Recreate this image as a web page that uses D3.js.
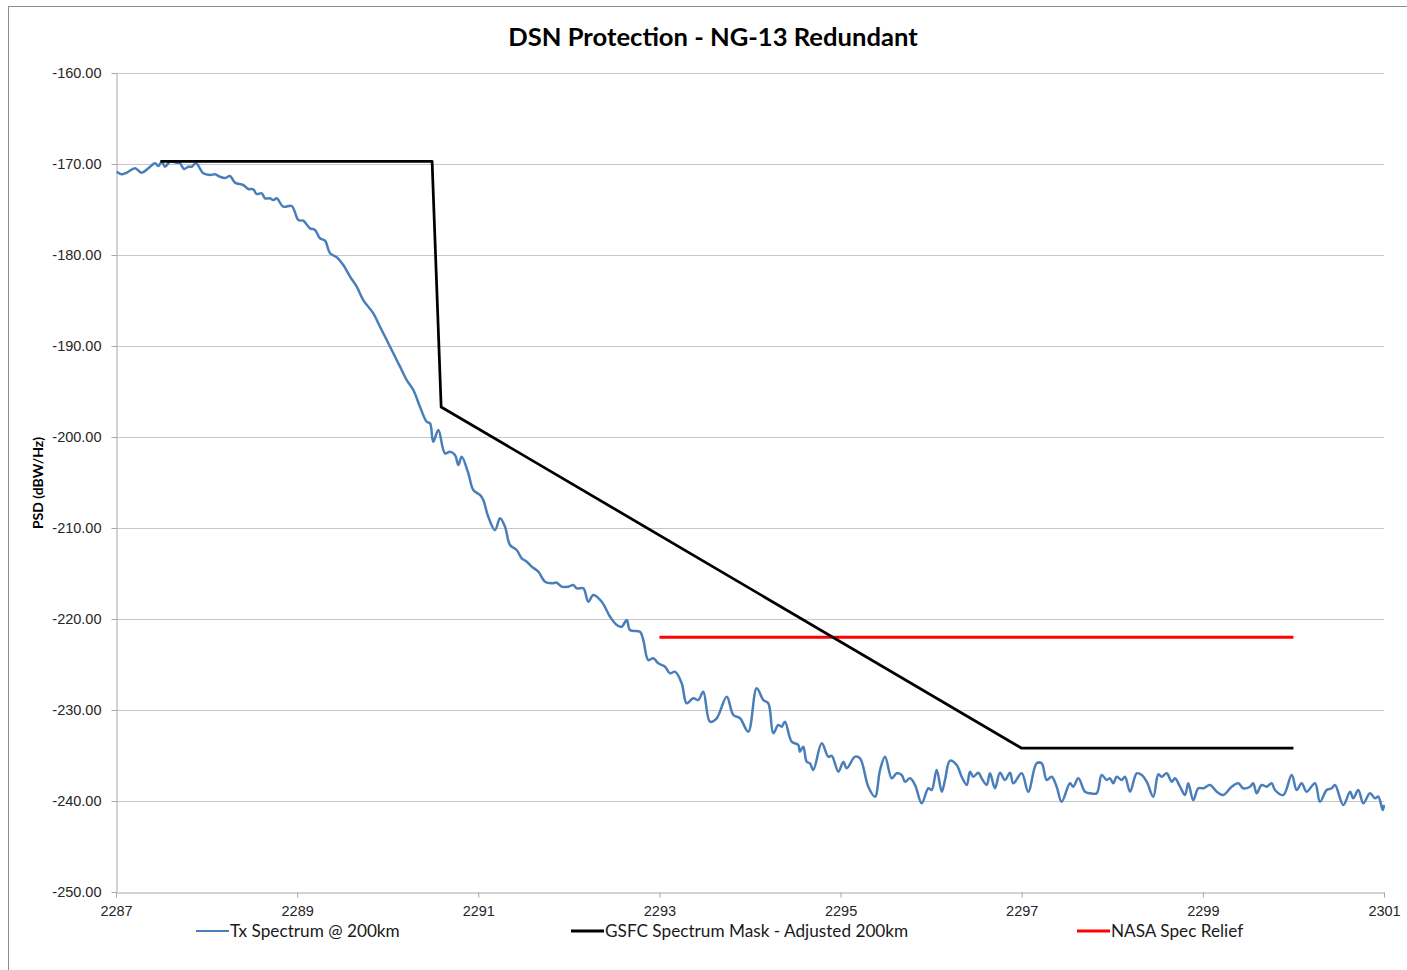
<!DOCTYPE html>
<html>
<head>
    <meta charset="utf-8">
    <style>
        body {
            margin: 0;
            background: #fff;
            font-family: Lato, 'Open Sans', Arial, sans-serif;
        }
        svg {
            display: block;
        }
        .tick text {
            font-size: 14.5px;
            fill: #262626;
        }
        .legend text {
            font-size: 17.2px;
            fill: #1a1a1a;
        }
    </style>
</head>
<body>
    <svg width="1407" height="970"></svg>
<script src="https://d3js.org/d3.v7.min.js"></script>
<script>
    // Tx spectrum (MHz, dBW/Hz)
    let txFreq = [2287.008, 2287.063, 2287.118, 2287.210, 2287.284, 2287.357, 2287.431, 2287.467, 2287.505, 2287.541,
        2287.596, 2287.670, 2287.707, 2287.751, 2287.798, 2287.836, 2287.883, 2287.964, 2288.038, 2288.093,
        2288.148, 2288.203, 2288.259, 2288.314, 2288.406, 2288.461, 2288.516, 2288.553, 2288.609, 2288.645,
        2288.700, 2288.737, 2288.774, 2288.847, 2288.940, 2289.013, 2289.068, 2289.142, 2289.197, 2289.252,
        2289.308, 2289.363, 2289.437, 2289.510, 2289.584, 2289.658, 2289.730, 2289.841, 2289.915, 2289.989,
        2290.062, 2290.136, 2290.210, 2290.283, 2290.356, 2290.430, 2290.467, 2290.503, 2290.559, 2290.632,
        2290.688, 2290.743, 2290.780, 2290.817, 2290.890, 2290.945, 2291.019, 2291.055, 2291.110, 2291.185,
        2291.240, 2291.295, 2291.350, 2291.424, 2291.479, 2291.535, 2291.590, 2291.663, 2291.737, 2291.811,
        2291.866, 2291.921, 2291.994, 2292.049, 2292.087, 2292.160, 2292.215, 2292.270, 2292.363, 2292.455,
        2292.529, 2292.584, 2292.639, 2292.675, 2292.786, 2292.822, 2292.877, 2292.932, 2292.988, 2293.062,
        2293.117, 2293.172, 2293.246, 2293.301, 2293.374, 2293.429, 2293.484, 2293.558, 2293.632, 2293.743,
        2293.816, 2293.890, 2293.981, 2294.074, 2294.147, 2294.202, 2294.257, 2294.312, 2294.350, 2294.386,
        2294.460, 2294.533, 2294.551, 2294.588, 2294.626, 2294.662, 2294.699, 2294.792, 2294.865, 2294.903,
        2294.976, 2295.031, 2295.068, 2295.160, 2295.215, 2295.306, 2295.380, 2295.436, 2295.491, 2295.565,
        2295.620, 2295.675, 2295.711, 2295.767, 2295.822, 2295.896, 2295.969, 2296.006, 2296.061, 2296.117,
        2296.153, 2296.208, 2296.282, 2296.337, 2296.393, 2296.429, 2296.465, 2296.521, 2296.558, 2296.613,
        2296.650, 2296.705, 2296.760, 2296.815, 2296.871, 2296.907, 2297.000, 2297.072, 2297.165, 2297.220,
        2297.276, 2297.331, 2297.386, 2297.441, 2297.533, 2297.569, 2297.625, 2297.699, 2297.754, 2297.828,
        2297.883, 2297.938, 2297.975, 2298.011, 2298.049, 2298.104, 2298.140, 2298.196, 2298.270, 2298.325,
        2298.380, 2298.453, 2298.508, 2298.545, 2298.601, 2298.656, 2298.692, 2298.748, 2298.803, 2298.839,
        2298.894, 2298.950, 2299.005, 2299.079, 2299.153, 2299.225, 2299.318, 2299.391, 2299.446, 2299.520,
        2299.556, 2299.594, 2299.649, 2299.704, 2299.760, 2299.796, 2299.888, 2299.981, 2300.036, 2300.091,
        2300.146, 2300.238, 2300.293, 2300.367, 2300.423, 2300.459, 2300.551, 2300.625, 2300.661, 2300.716,
        2300.772, 2300.845, 2300.901, 2300.937, 2300.986, 2301.000]
    let txPsd = [-170.85, -171.13, -170.96, -170.47, -170.96, -170.47, -169.92, -170.22, -169.75, -170.30,
        -169.75, -169.86, -169.92, -170.55, -170.30, -170.30, -169.92, -171.02, -171.21, -171.13,
        -171.40, -171.54, -171.32, -172.05, -172.31, -172.75, -172.78, -173.30, -173.22, -173.77,
        -173.77, -173.96, -173.77, -174.69, -174.62, -176.15, -176.23, -177.07, -177.25, -178.16,
        -178.43, -179.81, -180.25, -181.10, -182.38, -183.48, -184.95, -186.41, -187.88, -189.34,
        -190.80, -192.27, -193.74, -194.84, -196.67, -198.32, -198.49, -200.52, -199.23, -201.79,
        -201.62, -201.98, -203.08, -202.16, -203.99, -205.82, -206.37, -206.92, -208.76, -210.22,
        -208.93, -209.86, -211.87, -212.42, -213.33, -213.70, -214.25, -214.80, -215.90, -216.08,
        -216.01, -216.45, -216.45, -216.26, -216.63, -216.63, -218.10, -217.36, -218.10, -219.75,
        -220.66, -220.85, -220.11, -221.21, -221.40, -222.31, -224.51, -224.32, -224.87, -225.24,
        -225.97, -225.79, -227.07, -229.26, -228.71, -228.90, -227.99, -231.29, -230.91, -228.54,
        -230.55, -230.91, -232.38, -227.62, -228.90, -229.26, -232.56, -231.65, -231.84, -231.29,
        -233.48, -233.85, -234.58, -234.03, -235.68, -235.86, -236.59, -233.66, -235.13, -235.05,
        -236.78, -235.68, -236.41, -235.13, -235.31, -238.43, -239.53, -236.59, -235.13, -237.51,
        -236.96, -237.14, -237.88, -237.51, -238.24, -240.25, -238.60, -238.79, -236.59, -238.98,
        -237.69, -235.57, -236.04, -237.33, -238.24, -236.78, -237.33, -236.89, -237.51, -238.24,
        -236.96, -238.60, -236.89, -237.69, -236.89, -238.05, -236.96, -238.98, -235.86, -235.86,
        -237.69, -237.33, -238.43, -240.08, -238.05, -238.43, -237.51, -238.98, -239.15, -239.15,
        -237.14, -237.69, -237.51, -238.05, -237.33, -237.69, -237.33, -238.98, -236.96, -237.14,
        -237.88, -239.53, -237.07, -237.33, -236.96, -237.88, -237.51, -238.43, -239.34, -238.05,
        -239.89, -238.60, -238.60, -238.24, -238.98, -239.34, -238.43, -238.05, -238.60, -238.43,
        -238.05, -239.15, -238.24, -238.43, -238.05, -238.79, -239.34, -237.14, -238.79, -238.05,
        -238.98, -238.05, -240.08, -238.79, -238.60, -238.24, -240.44, -238.98, -239.70, -238.79,
        -240.25, -239.15, -239.70, -239.52, -240.99, -240.44]

    // GSFC mask
    let maskFreq = [2287.49, 2290.49, 2290.59, 2297.0, 2300.0]
    let maskPsd = [-169.7, -169.7, -196.7, -234.2, -234.2]

    // NASA spec relief
    let reliefFreq = [2293.0, 2300.0]
    let reliefPsd = [-222.0, -222.0]

    let xTicks = [2287, 2289, 2291, 2293, 2295, 2297, 2299, 2301]
    let yTicks = [-250, -240, -230, -220, -210, -200, -190, -180, -170, -160]

    let svg = d3.select("svg")

    // chart border
    svg.append("rect")
        .attr("x", 8.5).attr("y", 6.5)
        .attr("width", 1410).attr("height", 980)
        .attr("fill", "none")
        .attr("stroke", "#8c8c8c")
        .attr("stroke-width", 1)

    let x = d3.scaleLinear().domain([2287, 2301]).range([116, 1384])
    let y = d3.scaleLinear().domain([-250, -160]).range([892, 73])

    // gridlines
    svg.append("g")
        .selectAll("line")
        .data(yTicks.slice(1))
        .join("line")
        .attr("x1", x(2287)).attr("x2", x(2301))
        .attr("y1", d => Math.round(y(d)) + 0.5)
        .attr("y2", d => Math.round(y(d)) + 0.5)
        .attr("stroke", "#c8c8c8")
        .attr("stroke-width", 1)

    let xAxis = svg.append("g")
        .attr("transform", `translate(0,${Math.round(y(-250)) + 0.5})`)
        .call(d3.axisBottom(x).tickValues(xTicks).tickFormat(d3.format("d")).tickSize(5).tickSizeOuter(0))
    xAxis.selectAll("text").attr("dy", "1.1em")

    // hyphen instead of the unicode minus that d3.format gives
    let yFmt = d => d.toFixed(2)
    let yAxis = svg.append("g")
        .attr("transform", `translate(${Math.round(x(2287)) + 0.5},0)`)
        .call(d3.axisLeft(y).tickValues(yTicks).tickFormat(yFmt).tickSize(5).tickSizeOuter(0))
    yAxis.selectAll("text").attr("x", -15)

    svg.selectAll(".domain, .tick line").attr("stroke", "#a6a6a6")

    let line = d3.line()
        .x(d => x(d[0]))
        .y(d => y(d[1]))

    // Tx spectrum (smoothed like the spreadsheet line)
    svg.append("path")
        .datum(txFreq.map((f, i) => [f, txPsd[i]]))
        .attr("d", line.curve(d3.curveCatmullRom.alpha(0.5)))
        .attr("fill", "none")
        .attr("stroke", "#4a7ebb")
        .attr("stroke-width", 2.5)
        .attr("stroke-linejoin", "round")

    svg.append("path")
        .datum(reliefFreq.map((f, i) => [f, reliefPsd[i]]))
        .attr("d", line.curve(d3.curveLinear))
        .attr("fill", "none")
        .attr("stroke", "#ff0000")
        .attr("stroke-width", 3)

    svg.append("path")
        .datum(maskFreq.map((f, i) => [f, maskPsd[i]]))
        .attr("d", line.curve(d3.curveLinear))
        .attr("fill", "none")
        .attr("stroke", "#000")
        .attr("stroke-width", 2.75)
        .attr("stroke-linejoin", "round")

    // title
    svg.append("text")
        .attr("x", 713).attr("y", 46)
        .attr("text-anchor", "middle")
        .style("font-size", "25.6px")
        .style("font-weight", "bold")
        .attr("fill", "#000")
        .text("DSN Protection - NG-13 Redundant")

    // y axis title
    svg.append("text")
        .attr("transform", "translate(43,483) rotate(-90)")
        .attr("text-anchor", "middle")
        .style("font-size", "14px")
        .style("font-weight", "bold")
        .attr("fill", "#000")
        .text("PSD (dBW/Hz)")

    // legend
    let legendItems = [
        { name: "Tx Spectrum @ 200km", color: "#4a7ebb", w: 2, x: 196 },
        { name: "GSFC Spectrum Mask - Adjusted 200km", color: "#000", w: 3, x: 571 },
        { name: "NASA Spec Relief", color: "#ff0000", w: 3, x: 1077 }
    ]
    let legend = svg.append("g").attr("class", "legend")
        .selectAll("g")
        .data(legendItems)
        .join("g")
        .attr("transform", d => `translate(${d.x},931)`)
    legend.append("line")
        .attr("x1", 0).attr("x2", 33)
        .attr("stroke", d => d.color)
        .attr("stroke-width", d => d.w)
    legend.append("text")
        .attr("x", 34).attr("y", 6)
        .text(d => d.name)
</script>
</body>
</html>
